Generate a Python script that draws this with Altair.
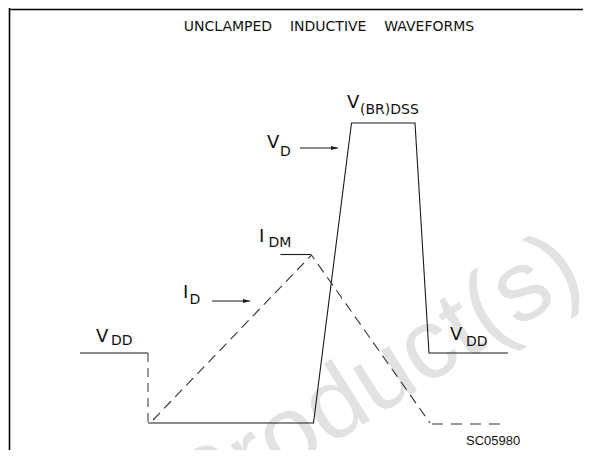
import altair as alt
import pandas as pd

# ---- waveform values (time units, level units; baseline = 0, VDD = 14) ----
vdd_t = [14.4, 28.0]
vdd_v = [14, 14]
vd_drop_t = [28.0, 28.0]
vd_drop_v = [14, 0]
vd_t = [28.0, 61.1, 68.7, 81.4, 84.2, 100.0]
vd_v = [0, 0, 60, 60, 14, 14]
id_t = [29.0, 60.7, 84.4]
id_v = [0.6, 33.6, 0.0]
id_tail_t = [84.8, 99.8]
id_tail_v = [-0.2, -0.2]
idm_t = [54.5, 60.6]
idm_v = [33.7, 33.7]

# arrows (start t, end t, level)
arrow_t0 = [58.4, 40.8]
arrow_t1 = [66.0, 48.4]
arrow_v = [55.0, 24.4]

# labels
main_text = ["V", "V", "I", "I", "V", "V"]
main_t = [67.8, 51.8, 35.0, 50.2, 17.6, 88.4]
main_v = [63.0, 55.0, 25.0, 36.2, 16.2, 16.6]
sub_text = ["(BR)DSS", "D", "D", "DM", "DD", "DD"]
sub_t = [70.4, 54.4, 36.3, 52.1, 20.6, 91.6]
sub_v = [61.8, 53.4, 23.8, 35.2, 15.6, 15.4]

title_text = "UNCLAMPED\u00a0\u00a0\u00a0\u00a0INDUCTIVE\u00a0\u00a0\u00a0\u00a0WAVEFORMS"
code_text = "SC05980"
watermark_text = "Product(s)"

X_DOM = [0, 115]
Y_DOM = [-5.4, 83]

def xs(field="t"):
    return alt.X(f"{field}:Q", scale=alt.Scale(domain=X_DOM, nice=False, zero=False), axis=None)

def ys(field="v"):
    return alt.Y(f"{field}:Q", scale=alt.Scale(domain=Y_DOM, nice=False, zero=False), axis=None)

def path_df(ts, vs):
    return pd.DataFrame({"t": ts, "v": vs, "i": list(range(len(ts)))})

def line(ts, vs, dash=None, color="#1a1a1a", width=1.1):
    kw = dict(color=color, strokeWidth=width, strokeCap="butt")
    if dash is not None:
        kw["strokeDash"] = dash
    return alt.Chart(path_df(ts, vs)).mark_line(**kw).encode(
        x=xs(), y=ys(), order="i:Q")

# watermark
wm = alt.Chart(pd.DataFrame({"t": [73.6], "v": [8.4], "s": [watermark_text]})).mark_text(
    font="Liberation Sans", fontSize=100, color="#e2e2e2", angle=328,
    align="center", baseline="middle").encode(x=xs(), y=ys(), text="s:N")

# frame (left and top)
frame_left = alt.Chart(pd.DataFrame({"t": [0.3], "v": [Y_DOM[0]], "v2": [Y_DOM[1]]})).mark_rule(
    color="#000", strokeWidth=1.6).encode(x=xs(), y=ys(), y2="v2:Q")
frame_top = alt.Chart(pd.DataFrame({"t": [0.3], "t2": [X_DOM[1]], "v": [82.7]})).mark_rule(
    color="#000", strokeWidth=1.6).encode(x=xs(), x2="t2:Q", y=ys())

layers = [wm, frame_left, frame_top,
          line(vdd_t, vdd_v),
          line(vd_drop_t, vd_drop_v, dash=[9, 6], color="#444"),
          line(vd_t, vd_v),
          line(id_t, id_v, dash=[10, 6], color="#333"),
          line(id_tail_t, id_tail_v, dash=[11, 8], color="#333"),
          line(idm_t, idm_v)]

# arrows
arr = pd.DataFrame({"t": arrow_t0, "t2": arrow_t1, "v": arrow_v})
layers.append(alt.Chart(arr).mark_rule(color="#1a1a1a", strokeWidth=1.1).encode(
    x=xs(), x2="t2:Q", y=ys()))
layers.append(alt.Chart(pd.DataFrame({"t": arrow_t1, "v": arrow_v})).mark_point(
    shape="M0,0L-2,-0.6L-2,0.6Z", size=49, filled=True, color="#1a1a1a", opacity=1,
    strokeWidth=0).encode(x=xs(), y=ys()))

# labels
main_df = pd.DataFrame({"t": main_t, "v": main_v, "s": main_text})
sub_df = pd.DataFrame({"t": sub_t, "v": sub_v, "s": sub_text})
layers.append(alt.Chart(main_df).mark_text(
    font="DejaVu Sans", fontSize=18, align="left", baseline="alphabetic", color="#111").encode(
    x=xs(), y=ys(), text="s:N"))
layers.append(alt.Chart(sub_df).mark_text(
    font="DejaVu Sans", fontSize=14, align="left", baseline="alphabetic", color="#111").encode(
    x=xs(), y=ys(), text="s:N"))
layers.append(alt.Chart(pd.DataFrame({"t": [64.2], "v": [78.4], "s": [title_text]})).mark_text(
    font="DejaVu Sans", fontSize=14, align="center", baseline="alphabetic", color="#111").encode(
    x=xs(), y=ys(), text="s:N"))
layers.append(alt.Chart(pd.DataFrame({"t": [91.6], "v": [-4.4], "s": [code_text]})).mark_text(
    font="Liberation Sans", fontSize=13, align="left", baseline="alphabetic", color="#111").encode(
    x=xs(), y=ys(), text="s:N"))

chart = alt.layer(*layers).properties(
    width=575, height=442, padding=0,
    autosize=alt.AutoSizeParams(type="none"),
    background="white",
).configure_view(stroke=None)

chart.save("out.html", embed_options={"renderer": "svg", "actions": False})
